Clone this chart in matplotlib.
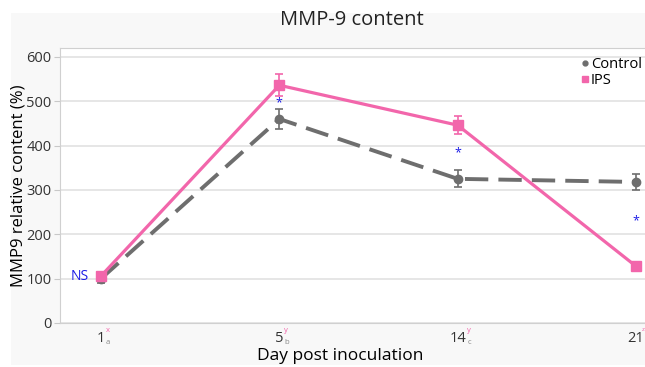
import numpy as np
import matplotlib.pyplot as plt
from matplotlib.lines import Line2D
from matplotlib.patches import Rectangle

# ── data ─────────────────────────────────────────────────────────────────────
days = ["1", "5", "14", "21"]
sup_letters = ["x", "y", "y", "z"]
sub_letters = ["a", "b", "c", ""]

control = [100, 460, 325, 318]
control_err = [10, 22, 19, 19]
ips = [106, 536, 446, 128]
ips_err = [8, 25, 20, 10]

star_pos = [1, 2, 3]
star_vals = [497, 383, 230]

PINK = "#F266AB"
GRAY = "#6E6E6E"
BLUE = "#1A1AE6"

plt.rcParams["font.family"] = ["Open Sans", "DejaVu Sans"]

fig = plt.figure(figsize=(6.45, 3.67), dpi=100)
# faint grey panel behind the chart
fig.patches.append(Rectangle((11 / 645, 2 / 367), 1, 352 / 367, transform=fig.transFigure,
                             facecolor="#F8F8F8", edgecolor="none", zorder=-10))

ax = fig.add_axes([60 / 645, 1 - 323 / 367, 617 / 645, 275 / 367])
ax.set_facecolor("white")

x = np.arange(len(days))

ax.errorbar(x, control, yerr=control_err, color=GRAY, lw=2.8, ls=(0, (6, 2.6)),
            marker="o", ms=6, capsize=3, elinewidth=1.2, capthick=1.2, zorder=3)
ax.errorbar(x, ips, yerr=ips_err, color=PINK, lw=2.3, marker="s", ms=7,
            capsize=3, elinewidth=1.2, capthick=1.2, zorder=4)

for p, v in zip(star_pos, star_vals):
    ax.text(p, v, "*", color=BLUE, fontsize=9, ha="center", va="center")
ax.text(-0.07, 105, "NS", color=BLUE, fontsize=10, ha="right", va="center")

ax.set_xlim(-0.23, 3.23)
ax.set_ylim(0, 620)
ax.set_yticks(range(0, 601, 100))
ax.grid(axis="y", color="#E2E2E2", lw=1.2)
ax.set_axisbelow(True)
for s in ax.spines.values():
    s.set_color("#D0D0D0")
ax.spines["right"].set_visible(False)
ax.tick_params(axis="y", length=4, color="#C8C8C8", labelsize=10.5,
               labelcolor="#333333", pad=2)
ax.set_xticks(x)
ax.set_xticklabels([])
ax.tick_params(axis="x", length=0)

# tick labels with letter annotations
for i, d in enumerate(days):
    ax.annotate(d, (i, 0), xycoords=("data", "axes fraction"),
                xytext=(0, -6), textcoords="offset points",
                ha="center", va="top", fontsize=10.5, color="#333333")
    w = 3.3 * len(d) if i < 3 else 3.6
    ax.annotate(sup_letters[i], (i, 0), xycoords=("data", "axes fraction"),
                xytext=(w + 0.3, -3), textcoords="offset points",
                ha="left", va="top", fontsize=4.5 if i == 3 else 5.5, color=PINK)
    if sub_letters[i]:
        ax.annotate(sub_letters[i], (i, 0), xycoords=("data", "axes fraction"),
                    xytext=(w + 0.3, -11.5), textcoords="offset points",
                    ha="left", va="top", fontsize=5.5, color="#888888")

ax.set_xlabel("Day post inoculation", fontsize=12.5)
ax.xaxis.set_label_coords(280 / 617, -25 / 275)
ax.set_ylabel("MMP9 relative content (%)", fontsize=12)
ax.yaxis.set_label_coords(-33 / 617, 0.5)

handles = [
    Line2D([], [], color=GRAY, marker="o", ls="", ms=3.5, label="Control"),
    Line2D([], [], color=PINK, marker="s", ls="", ms=5, label="IPS"),
]
fig.legend(handles=handles, loc="upper left", bbox_to_anchor=(572 / 645, 1 - 51 / 367),
           frameon=False, fontsize=10.5, handletextpad=-0.1, handlelength=1.0,
           labelspacing=0.1, borderaxespad=0)

fig.text(352 / 645, 1 - 20 / 367, "MMP-9 content", fontsize=14.5, ha="center",
         va="center", color="#222222")

fig.savefig("out.png", dpi=100)
